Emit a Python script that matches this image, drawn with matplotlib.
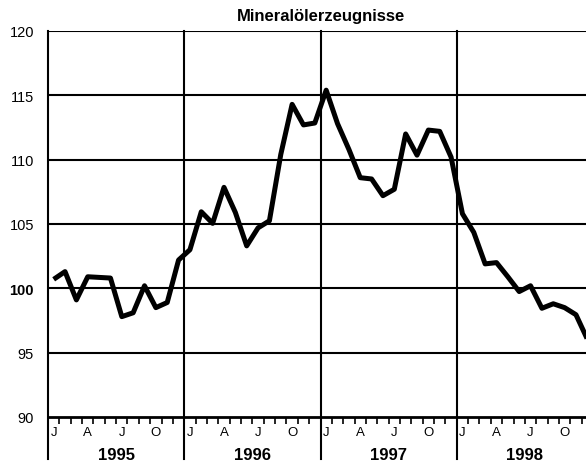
import numpy as np
import matplotlib
matplotlib.use("Agg")
import matplotlib.pyplot as plt

plt.rcParams["font.family"] = ["Liberation Sans", "DejaVu Sans"]

# =============================================================================
# DATA (monthly index, Jan 1995 - Dec 1998)
# =============================================================================

title = "Mineralölerzeugnisse"
years = ["1995", "1996", "1997", "1998"]
month_letters = {0: "J", 3: "A", 6: "J", 9: "O"}

v1995 = [100.7, 101.3, 99.1, 100.9, 100.85, 100.8,
         97.8, 98.1, 100.2, 98.5, 98.9, 102.2]
v1996 = [103.0, 105.95, 105.05, 107.85, 105.9, 103.3,
         104.7, 105.25, 110.4, 114.3, 112.7, 112.85]
v1997 = [115.4, 112.8, 110.8, 108.6, 108.5, 107.2,
         107.7, 112.0, 110.35, 112.3, 112.2, 110.2]
v1998 = [105.8, 104.35, 101.9, 102.0, 100.9, 99.75,
         100.2, 98.45, 98.8, 98.5, 97.95, 96.05]

yticks = [90, 95, 100, 105, 110, 115, 120]


# =============================================================================
# PLOT
# =============================================================================

values = np.array(v1995 + v1996 + v1997 + v1998)
n = len(values)
x = np.arange(n) + 0.5

fig = plt.figure(figsize=(5.86, 4.64), dpi=100)
ax = fig.add_axes([48 / 586, 46 / 464, 545 / 586, 386 / 464])

ax.set_xlim(0, n)
ax.set_ylim(90, 120)

for y in yticks[1:]:
    ax.axhline(y, color="black", lw=1.5, zorder=1)

for i in range(len(years) + 1):
    ax.axvline(i * 12, ymin=-0.11, ymax=1, color="black", lw=1.5,
               clip_on=False, zorder=1)

ax.plot(x, values, color="black", lw=3.6, solid_joinstyle="round",
        solid_capstyle="butt", zorder=3)

for s in ["top", "right", "left"]:
    ax.spines[s].set_visible(False)
ax.spines["bottom"].set_linewidth(2)

ax.set_yticks(yticks)
ax.set_yticklabels([str(t) for t in yticks], fontsize=10.5)
for lbl in ax.get_yticklabels():
    if lbl.get_text() == "100":
        lbl.set_fontweight("bold")
ax.tick_params(axis="y", length=0, pad=10)

ax.set_xticks(np.arange(0, n + 1))
ax.set_xticklabels([])
ax.tick_params(axis="x", direction="out", length=5, width=1.2)

trans = ax.get_xaxis_transform()
for yi, year in enumerate(years):
    for m, letter in month_letters.items():
        ax.text(yi * 12 + m + 0.5, -0.039, letter, transform=trans,
                ha="center", va="center", fontsize=9.5)
    ax.text(yi * 12 + 6, -0.097, year, transform=trans, ha="center",
            va="center", fontsize=12, fontweight="bold")

ax.set_title(title, fontsize=12, fontweight="bold", pad=8)

fig.savefig("out.png", dpi=100)
